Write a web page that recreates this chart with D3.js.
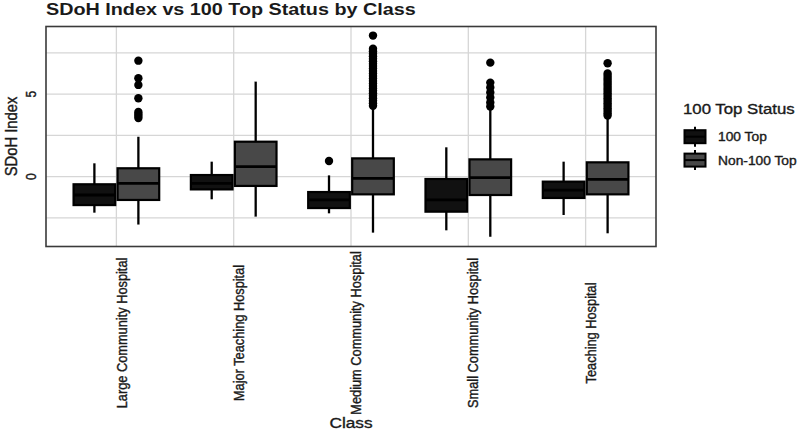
<!DOCTYPE html>
<html>
<head>
    <title>SDoH Index vs 100 Top Status by Class</title>
    <style>
        body { margin: 0; background: #fff; }
        text { font-family: "Liberation Sans", Arial, sans-serif; fill: #1a1a1a; }
        text.heavy { stroke: #1a1a1a; stroke-width: 0.35px; }
    </style>
</head>
<body>
<script src="https://d3js.org/d3.v7.min.js"></script>
<script type="text/javascript">

    var categories = ['Large Community Hospital', 'Major Teaching Hospital', 'Medium Community Hospital',
                      'Small Community Hospital', 'Teaching Hospital'];
    var groups = ['100 Top', 'Non-100 Top'];

    // five-number summaries, one value per category
    var top100Low    = [-2.18, -1.37, -2.22, -3.25, -2.32];
    var top100Q1     = [-1.72, -0.77, -1.90, -2.12, -1.29];
    var top100Median = [-1.11, -0.40, -1.41, -1.41, -0.81];
    var top100Q3     = [-0.46,  0.10, -0.93, -0.14, -0.30];
    var top100High   = [ 0.81,  0.91,  0.08,  1.78,  0.91];
    var top100Out    = [[], [], [0.95], [], []];

    var nonTopLow    = [-2.90, -2.42, -3.39, -3.64, -3.43];
    var nonTopQ1     = [-1.41, -0.56, -1.07, -1.11, -1.07];
    var nonTopMedian = [-0.40,  0.61, -0.10, -0.06, -0.16];
    var nonTopQ3     = [ 0.51,  2.12,  1.11,  1.05,  0.87];
    var nonTopHigh   = [ 2.42,  5.76,  4.14,  4.14,  3.54];
    var nonTopOut    = [
        [3.55, 3.68, 3.80, 3.92, 4.75, 5.56, 5.96, 7.03],
        [],
        [4.30, 4.45, 4.60, 4.75, 4.90, 5.05, 5.20, 5.35, 5.50, 5.65, 5.80, 5.95, 6.10,
         6.25, 6.40, 6.55, 6.70, 6.85, 7.00, 7.15, 7.30, 7.45, 7.60, 7.75, 8.55],
        [4.25, 4.50, 4.80, 5.10, 5.40, 5.70, 6.91],
        [3.70, 3.85, 4.00, 4.15, 4.30, 4.45, 4.60, 4.75, 4.90, 5.05, 5.20, 5.35, 5.50,
         5.65, 5.80, 5.95, 6.10, 6.25, 6.87]
    ];

    var yTicks = [0, 5];
    var yMinor = [-2.5, 2.5, 7.5];

    var width = 800;
    var height = 431;
    var panel = {left: 46, right: 656, top: 26.5, bottom: 246.5};
    var sx = 1.15; // horizontal stretch of the text in the picture

    var boxes = [];
    categories.forEach(function(c, i) {
        boxes.push({cat: c, group: groups[0], low: top100Low[i], q1: top100Q1[i], med: top100Median[i],
                    q3: top100Q3[i], high: top100High[i], out: top100Out[i]});
        boxes.push({cat: c, group: groups[1], low: nonTopLow[i], q1: nonTopQ1[i], med: nonTopMedian[i],
                    q3: nonTopQ3[i], high: nonTopHigh[i], out: nonTopOut[i]});
    });

    var x = d3.scalePoint()
                .domain(categories)
                .range([panel.left, panel.right])
                .padding(0.6);

    var step = x.step();
    var dodge = d3.scalePoint()
                .domain(groups)
                .range([-0.1875 * step, 0.1875 * step]);
    var boxWidth = 0.355 * step;

    var y = d3.scaleLinear()
                .domain([-4.23, 9.1])
                .range([panel.bottom, panel.top]);

    var fill = d3.scaleOrdinal()
                .domain(groups)
                .range(['#111111', '#484848']);

    var svg = d3.select('body')
                .append('svg')
                    .attr('width', width)
                    .attr('height', height);

    // grid
    var grid = svg.append('g').attr('stroke', '#d6d6d6').attr('stroke-width', 1.3);
    grid.selectAll('line.h')
        .data(yTicks.concat(yMinor))
        .enter()
        .append('line')
            .attr('x1', panel.left).attr('x2', panel.right)
            .attr('y1', function(d) { return y(d); })
            .attr('y2', function(d) { return y(d); });
    grid.selectAll('line.v')
        .data(categories)
        .enter()
        .append('line')
            .attr('y1', panel.top).attr('y2', panel.bottom)
            .attr('x1', function(d) { return x(d); })
            .attr('x2', function(d) { return x(d); });

    // boxplots
    var bx = svg.append('g')
                .selectAll('g')
                .data(boxes)
                .enter()
                .append('g')
                    .attr('transform', function(d) { return 'translate(' + (x(d.cat) + dodge(d.group)) + ',0)'; });

    bx.append('line')
        .attr('x1', 0).attr('x2', 0)
        .attr('y1', function(d) { return y(d.high); })
        .attr('y2', function(d) { return y(d.low); })
        .attr('stroke', '#000')
        .attr('stroke-width', 2.3);

    bx.append('rect')
        .attr('x', -boxWidth / 2)
        .attr('width', boxWidth)
        .attr('y', function(d) { return y(d.q3); })
        .attr('height', function(d) { return y(d.q1) - y(d.q3); })
        .attr('fill', function(d) { return fill(d.group); })
        .attr('stroke', '#000')
        .attr('stroke-width', 2.2);

    bx.append('line')
        .attr('x1', -boxWidth / 2).attr('x2', boxWidth / 2)
        .attr('y1', function(d) { return y(d.med); })
        .attr('y2', function(d) { return y(d.med); })
        .attr('stroke', '#000')
        .attr('stroke-width', 2.8);

    bx.selectAll('circle')
        .data(function(d) { return d.out; })
        .enter()
        .append('circle')
            .attr('cx', 0)
            .attr('cy', function(d) { return y(d); })
            .attr('r', 4.2)
            .attr('fill', '#000');

    // panel border
    svg.append('rect')
        .attr('x', panel.left).attr('y', panel.top)
        .attr('width', panel.right - panel.left)
        .attr('height', panel.bottom - panel.top)
        .attr('fill', 'none')
        .attr('stroke', '#3a3a3a')
        .attr('stroke-width', 1.6);

    // axes labels
    svg.selectAll('text.ytick')
        .data(yTicks)
        .enter()
        .append('text')
            .attr('class', 'heavy')
            .attr('transform', function(d) { return 'translate(31,' + y(d) + ') scale(' + sx + ',1) rotate(-90)'; })
            .attr('text-anchor', 'middle')
            .attr('dy', '0.35em')
            .style('font-size', '12px')
            .text(function(d) { return d; });

    svg.selectAll('text.xtick')
        .data(categories)
        .enter()
        .append('text')
            .attr('class', 'heavy')
            .attr('transform', function(d) { return 'translate(' + (x(d) + 5) + ',333) scale(' + sx + ',1) rotate(-90)'; })
            .attr('text-anchor', 'middle')
            .attr('dy', '0.35em')
            .style('font-size', '12.8px')
            .text(function(d) { return d; });

    svg.append('text')
        .attr('class', 'heavy')
        .attr('transform', 'translate(11,' + ((panel.top + panel.bottom) / 2) + ') scale(' + sx + ',1) rotate(-90)')
        .attr('text-anchor', 'middle')
        .attr('dy', '0.35em')
        .style('font-size', '14.8px')
        .text('SDoH Index');

    svg.append('text')
        .attr('class', 'heavy')
        .attr('transform', 'translate(' + ((panel.left + panel.right) / 2) + ',428) scale(' + sx + ',1)')
        .attr('text-anchor', 'middle')
        .style('font-size', '15px')
        .text('Class');

    svg.append('text')
        .attr('transform', 'translate(46,15) scale(' + sx + ',1)')
        .style('font-size', '17.2px')
        .style('font-weight', 'bold')
        .text('SDoH Index vs 100 Top Status by Class');

    // legend
    var legend = svg.append('g').attr('transform', 'translate(683,0)');
    legend.append('text')
        .attr('class', 'heavy')
        .attr('transform', 'translate(0,114) scale(' + sx + ',1)')
        .style('font-size', '14.6px')
        .text('100 Top Status');

    var keys = legend.selectAll('g.key')
                .data(groups)
                .enter()
                .append('g')
                    .attr('transform', function(d, i) { return 'translate(0,' + (136.7 + i * 23.4) + ')'; });

    keys.append('line')
        .attr('x1', 12).attr('x2', 12)
        .attr('y1', -10).attr('y2', 10)
        .attr('stroke', '#000').attr('stroke-width', 2);
    keys.append('rect')
        .attr('x', 1.5).attr('y', -6.5)
        .attr('width', 21).attr('height', 13)
        .attr('fill', function(d) { return fill(d); })
        .attr('stroke', '#000').attr('stroke-width', 2);
    keys.append('line')
        .attr('x1', 1.5).attr('x2', 22.5)
        .attr('y1', 0).attr('y2', 0)
        .attr('stroke', '#000').attr('stroke-width', 2);
    keys.append('text')
        .attr('class', 'heavy')
        .attr('transform', 'translate(35,4.5) scale(' + sx + ',1)')
        .style('font-size', '12px')
        .text(function(d) { return d; });

</script>
</body>
</html>
